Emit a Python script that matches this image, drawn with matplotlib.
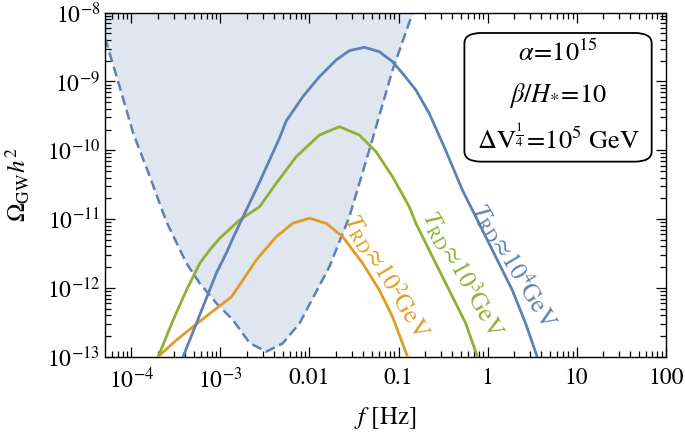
import matplotlib
matplotlib.use("Agg")
import matplotlib.pyplot as plt
import numpy as np
from matplotlib.patches import FancyBboxPatch
from matplotlib.ticker import FixedLocator, LogLocator, NullFormatter

# log10 values
lisa_logf = [-4.296, -4.165, -3.979, -3.792, -3.605, -3.381, -3.232, -3.045, -2.859,
             -2.672, -2.485, -2.299, -2.112, -1.776, -1.552, -1.328, -1.067, -0.843]
lisa_logy = [-8.368, -8.930, -9.753, -10.384, -11.042, -11.642, -11.933, -12.224, -12.467,
             -12.801, -12.927, -12.805, -12.515, -11.692, -10.965, -9.996, -8.833, -8.009]

t4_logf = [-3.419, -3.232, -3.045, -2.933, -2.859, -2.709, -2.560, -2.448, -2.336, -2.261,
           -2.075, -1.888, -1.701, -1.552, -1.384, -1.216, -1.067, -0.955, -0.805, -0.656,
           -0.488, -0.283, -0.096, 0.091, 0.277, 0.427, 0.557]
t4_logy = [-13.0, -12.394, -11.783, -11.493, -11.275, -10.868, -10.461, -10.141, -9.821, -9.574,
           -9.221, -8.930, -8.688, -8.552, -8.503, -8.567, -8.712, -8.881, -9.124, -9.462,
           -9.948, -10.577, -11.061, -11.547, -12.031, -12.515, -13.0]

t3_logf = [-3.699, -3.531, -3.381, -3.232, -3.120, -3.008, -2.784, -2.560, -2.373, -2.149,
           -1.888, -1.664, -1.440, -1.253, -1.067, -0.880, -0.805, -0.619, -0.432, -0.245, -0.115]
t3_logy = [-13.0, -12.467, -12.031, -11.642, -11.449, -11.279, -11.013, -10.820, -10.480, -10.093,
           -9.778, -9.657, -9.778, -10.020, -10.384, -10.820, -11.061, -11.547, -12.031, -12.515, -13.0]

t2_logf = [-3.699, -3.493, -3.269, -3.083, -2.877, -2.747, -2.597, -2.373, -2.187, -2.0,
           -1.813, -1.627, -1.403, -1.216, -1.067, -0.899]
t2_logy = [-13.0, -12.757, -12.525, -12.336, -12.132, -11.885, -11.594, -11.256, -11.061, -10.988,
           -11.061, -11.256, -11.642, -12.031, -12.419, -13.0]

x_ticks = [1e-4, 1e-3, 0.01, 0.1, 1, 10, 100]
x_ticklabels = [r"$10^{-4}$", r"$10^{-3}$", "0.01", "0.1", "1", "10", "100"]
y_ticks = [1e-13, 1e-12, 1e-11, 1e-10, 1e-9, 1e-8]
y_ticklabels = [r"$10^{-13}$", r"$10^{-12}$", r"$10^{-11}$", r"$10^{-10}$", r"$10^{-9}$", r"$10^{-8}$"]

labels = [r"$T_{\mathrm{RD}}\!\approx\!10^{2}\mathrm{GeV}$",
          r"$T_{\mathrm{RD}}\!\approx\!10^{3}\mathrm{GeV}$",
          r"$T_{\mathrm{RD}}\!\approx\!10^{4}\mathrm{GeV}$"]

BLUE = "#5e81b5"
ORANGE = "#e19c24"
GREEN = "#8fb032"

plt.rcParams["font.family"] = ["STIXGeneral", "DejaVu Serif"]
plt.rcParams["mathtext.fontset"] = "stix"

fig = plt.figure(figsize=(6.85, 4.36), dpi=100)
ax = fig.add_axes([0.1533, 0.1819, 0.8185, 0.789])

lf = 10 ** np.array(lisa_logf)
ly = 10 ** np.array(lisa_logy)
ax.fill_between(lf, ly, 1e-8, color="#dfe6f0", lw=0, zorder=1)
ax.plot(lf, ly, color=BLUE, lw=1.8, dashes=(4, 2), zorder=2)

kw = dict(lw=2.0, zorder=3, solid_joinstyle="round")
ax.plot(10 ** np.array(t2_logf), 10 ** np.array(t2_logy), color=ORANGE, **kw)
ax.plot(10 ** np.array(t3_logf), 10 ** np.array(t3_logy), color=GREEN, **kw)
ax.plot(10 ** np.array(t4_logf), 10 ** np.array(t4_logy), color=BLUE, **kw)

ax.set_xscale("log")
ax.set_yscale("log")
ax.set_xlim(5.06e-5, 100)
ax.set_ylim(1e-13, 1e-8)

ax.xaxis.set_major_locator(FixedLocator(x_ticks))
ax.set_xticklabels(x_ticklabels)
ax.yaxis.set_major_locator(FixedLocator(y_ticks))
ax.set_yticklabels(y_ticklabels)
for a in (ax.xaxis, ax.yaxis):
    a.set_minor_locator(LogLocator(base=10, subs=np.arange(2, 10), numticks=20))
    a.set_minor_formatter(NullFormatter())
ax.tick_params(which="both", direction="in", top=True, right=True, labelsize=17, width=0.9)
ax.tick_params(which="major", length=7)
ax.tick_params(which="minor", length=4)
ax.tick_params(axis="x", pad=8)
for s in ax.spines.values():
    s.set_linewidth(1.0)

ax.set_xlabel(r"$f$ [Hz]", fontsize=18, labelpad=8)
ax.set_ylabel(r"$\Omega_{\mathrm{GW}}h^2$", fontsize=18, labelpad=10)

# curve labels
ax.text(10 ** -1.14, 10 ** -11.84, labels[0], color=ORANGE, fontsize=18,
        rotation=-59, ha="center", va="center", rotation_mode="anchor", zorder=4)
ax.text(10 ** -0.29, 10 ** -11.80, labels[1], color=GREEN, fontsize=18,
        rotation=-61, ha="center", va="center", rotation_mode="anchor", zorder=4)
ax.text(10 ** 0.30, 10 ** -11.67, labels[2], color=BLUE, fontsize=18,
        rotation=-59, ha="center", va="center", rotation_mode="anchor", zorder=4)

box = FancyBboxPatch((0.641, 0.567), 0.334, 0.374, transform=ax.transAxes,
                     boxstyle="round,pad=0,rounding_size=0.03", fc="white",
                     ec="black", lw=1.3, zorder=5)
ax.add_patch(box)
ax.text(0.808, 0.880, r"$\alpha\!=\!10^{15}$", transform=ax.transAxes,
        fontsize=19, ha="center", va="center", zorder=6)
ax.text(0.808, 0.758, r"$\beta/H_{*}\!=\!10$", transform=ax.transAxes,
        fontsize=19, ha="center", va="center", zorder=6)
ax.text(0.808, 0.630, r"$\Delta\mathrm{V}^{\frac{1}{4}}\!=\!10^{5}\ \mathrm{GeV}$",
        transform=ax.transAxes, fontsize=19, ha="center", va="center", zorder=6)

fig.savefig("out.png", dpi=100)
